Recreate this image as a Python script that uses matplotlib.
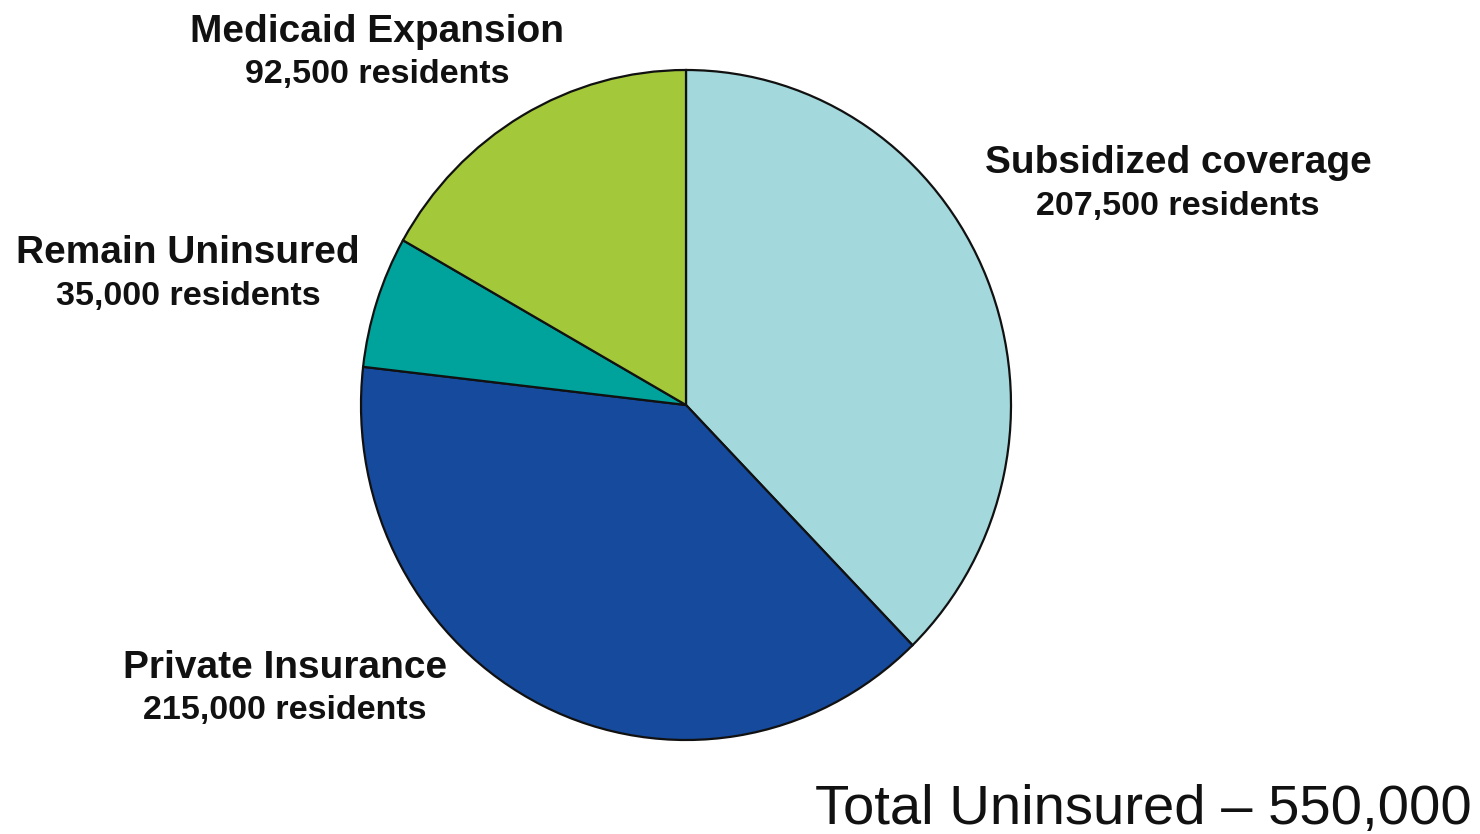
import matplotlib.pyplot as plt

plt.rcParams['font.family'] = ['Liberation Sans', 'DejaVu Sans']

# coverage outcome for the uninsured population
categories = ['Subsidized coverage', 'Private Insurance', 'Remain Uninsured', 'Medicaid Expansion']
residents = [207500, 215000, 35000, 92500]
colors = ['#a3d9dc', '#164a9c', '#00a39b', '#a3c93a']
total_label = 'Total Uninsured \u2013 550,000'

W, H = 1480, 834
fig = plt.figure(figsize=(W / 100, H / 100), dpi=100)
ax = fig.add_axes([0, 0, 1, 1])

# pie centre and radii in pixels (slightly taller than wide)
cx, cy = 686, 405
rx, ry = 325, 335

ax.pie(residents, colors=colors, startangle=90, counterclock=False,
       radius=1, center=(0, 0), frame=True,
       wedgeprops=dict(edgecolor='#111111', linewidth=1.6))
ax.set_xlim(-cx / rx, (W - cx) / rx)
ax.set_ylim(-(H - cy) / ry, cy / ry)
ax.set_aspect('auto')
ax.axis('off')

# label anchors (pixel centres of the first line)
label_pos = {
    'Subsidized coverage': (1178, 163),
    'Private Insurance': (285, 668),
    'Remain Uninsured': (188, 253),
    'Medicaid Expansion': (377, 32),
}

for name, val in zip(categories, residents):
    px, py = label_pos[name]
    fig.text(px / W, 1 - py / H, name, ha='center', va='center',
             fontsize=28, fontweight='bold', color='#111111')
    fig.text(px / W, 1 - (py + 43) / H, f'{val:,} residents', ha='center',
             va='center', fontsize=24.5, fontweight='bold', color='#111111')

fig.text(1472 / W, 1 - 810 / H, total_label, ha='right', va='center',
         fontsize=40.5, color='#111111')

fig.savefig('out.png', dpi=100, facecolor='white')
